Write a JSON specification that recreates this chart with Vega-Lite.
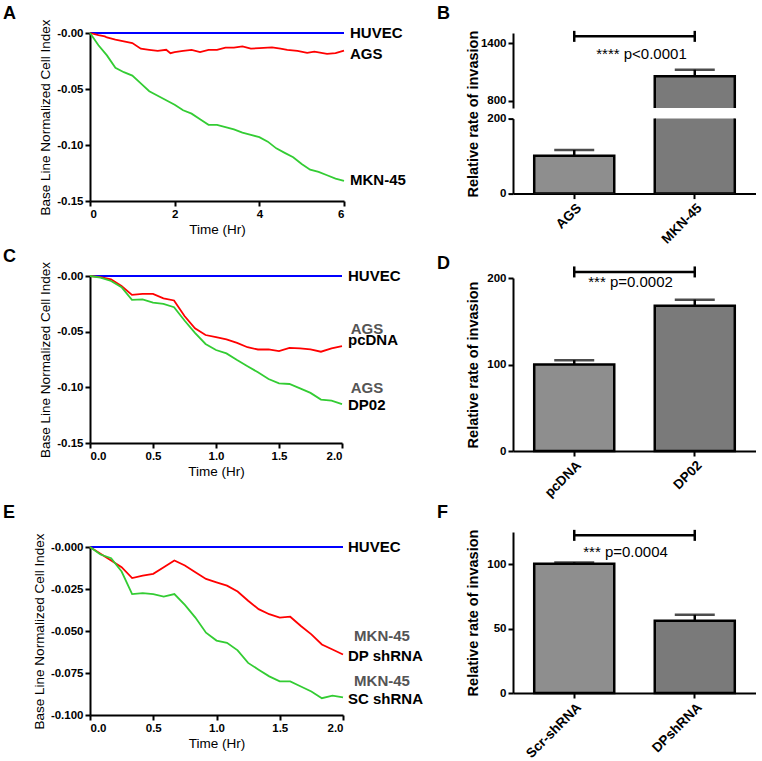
{
  "$schema": "https://vega.github.io/schema/vega-lite/v6.json",
  "background": "white",
  "padding": {"left": 3, "top": 4, "right": 0, "bottom": 6},
  "config": {
    "font": "Liberation Sans",
    "view": {"stroke": null},
    "axis": {"domainColor": "black", "domainWidth": 2, "tickColor": "black", "tickWidth": 2, "tickSize": 5, "labelColor": "black", "labelFontWeight": "bold", "labelFontSize": 11.5, "labelPadding": 2, "labelOverlap": false, "titleColor": "black", "titleFontWeight": "normal", "titleFontSize": 13.5, "grid": false},
    "title": {"fontSize": 18, "fontWeight": "bold", "anchor": "start", "frame": "group", "color": "black"}
  },
  "datasets": {
    "lineA": [
      {"t": 0, "v": 0, "s": "HUVEC"}, {"t": 1, "v": 0, "s": "HUVEC"}, {"t": 2, "v": 0, "s": "HUVEC"}, {"t": 3, "v": 0, "s": "HUVEC"}, {"t": 4, "v": 0, "s": "HUVEC"}, {"t": 5, "v": 0, "s": "HUVEC"}, {"t": 6, "v": 0, "s": "HUVEC"},
      {"t": 0, "v": 0, "s": "AGS"}, {"t": 0.2, "v": -0.002, "s": "AGS"}, {"t": 0.35, "v": -0.003, "s": "AGS"}, {"t": 0.4, "v": -0.004, "s": "AGS"}, {"t": 0.6, "v": -0.006, "s": "AGS"}, {"t": 0.8, "v": -0.0075, "s": "AGS"}, {"t": 1.0, "v": -0.009, "s": "AGS"}, {"t": 1.2, "v": -0.014, "s": "AGS"}, {"t": 1.4, "v": -0.015, "s": "AGS"}, {"t": 1.6, "v": -0.016, "s": "AGS"}, {"t": 1.8, "v": -0.015, "s": "AGS"}, {"t": 1.9, "v": -0.018, "s": "AGS"}, {"t": 2.0, "v": -0.017, "s": "AGS"}, {"t": 2.2, "v": -0.016, "s": "AGS"}, {"t": 2.4, "v": -0.015, "s": "AGS"}, {"t": 2.6, "v": -0.017, "s": "AGS"}, {"t": 2.8, "v": -0.015, "s": "AGS"}, {"t": 3.0, "v": -0.015, "s": "AGS"}, {"t": 3.2, "v": -0.013, "s": "AGS"}, {"t": 3.4, "v": -0.013, "s": "AGS"}, {"t": 3.6, "v": -0.012, "s": "AGS"}, {"t": 3.8, "v": -0.014, "s": "AGS"}, {"t": 4.0, "v": -0.0135, "s": "AGS"}, {"t": 4.3, "v": -0.0128, "s": "AGS"}, {"t": 4.5, "v": -0.014, "s": "AGS"}, {"t": 4.66, "v": -0.015, "s": "AGS"}, {"t": 4.9, "v": -0.016, "s": "AGS"}, {"t": 5.13, "v": -0.0178, "s": "AGS"}, {"t": 5.3, "v": -0.0167, "s": "AGS"}, {"t": 5.6, "v": -0.0187, "s": "AGS"}, {"t": 5.8, "v": -0.018, "s": "AGS"}, {"t": 6.0, "v": -0.0158, "s": "AGS"},
      {"t": 0, "v": 0, "s": "MKN-45"}, {"t": 0.2, "v": -0.011, "s": "MKN-45"}, {"t": 0.4, "v": -0.02, "s": "MKN-45"}, {"t": 0.6, "v": -0.031, "s": "MKN-45"}, {"t": 0.8, "v": -0.035, "s": "MKN-45"}, {"t": 1.0, "v": -0.038, "s": "MKN-45"}, {"t": 1.2, "v": -0.045, "s": "MKN-45"}, {"t": 1.4, "v": -0.052, "s": "MKN-45"}, {"t": 1.6, "v": -0.056, "s": "MKN-45"}, {"t": 1.8, "v": -0.06, "s": "MKN-45"}, {"t": 2.0, "v": -0.064, "s": "MKN-45"}, {"t": 2.2, "v": -0.069, "s": "MKN-45"}, {"t": 2.4, "v": -0.072, "s": "MKN-45"}, {"t": 2.6, "v": -0.077, "s": "MKN-45"}, {"t": 2.8, "v": -0.082, "s": "MKN-45"}, {"t": 3.0, "v": -0.082, "s": "MKN-45"}, {"t": 3.2, "v": -0.084, "s": "MKN-45"}, {"t": 3.4, "v": -0.086, "s": "MKN-45"}, {"t": 3.6, "v": -0.089, "s": "MKN-45"}, {"t": 3.8, "v": -0.091, "s": "MKN-45"}, {"t": 4.0, "v": -0.093, "s": "MKN-45"}, {"t": 4.2, "v": -0.097, "s": "MKN-45"}, {"t": 4.4, "v": -0.103, "s": "MKN-45"}, {"t": 4.6, "v": -0.107, "s": "MKN-45"}, {"t": 4.8, "v": -0.111, "s": "MKN-45"}, {"t": 5.0, "v": -0.117, "s": "MKN-45"}, {"t": 5.2, "v": -0.122, "s": "MKN-45"}, {"t": 5.4, "v": -0.124, "s": "MKN-45"}, {"t": 5.6, "v": -0.127, "s": "MKN-45"}, {"t": 5.8, "v": -0.13, "s": "MKN-45"}, {"t": 6.0, "v": -0.132, "s": "MKN-45"}
    ],
    "labA": [
      {"t": 6, "v": 0, "label": "HUVEC"}, {"t": 6, "v": -0.0187, "label": "AGS"}, {"t": 6, "v": -0.1316, "label": "MKN-45"}
    ],
    "lineC": [
      {"t": 0, "v": 0, "s": "HUVEC"}, {"t": 0.5, "v": 0, "s": "HUVEC"}, {"t": 1, "v": 0, "s": "HUVEC"}, {"t": 1.5, "v": 0, "s": "HUVEC"}, {"t": 2, "v": 0, "s": "HUVEC"},
      {"t": 0, "v": 0, "s": "AGS pcDNA"}, {"t": 0.083, "v": -0.001, "s": "AGS pcDNA"}, {"t": 0.167, "v": -0.003, "s": "AGS pcDNA"}, {"t": 0.25, "v": -0.009, "s": "AGS pcDNA"}, {"t": 0.333, "v": -0.017, "s": "AGS pcDNA"}, {"t": 0.417, "v": -0.016, "s": "AGS pcDNA"}, {"t": 0.5, "v": -0.016, "s": "AGS pcDNA"}, {"t": 0.583, "v": -0.02, "s": "AGS pcDNA"}, {"t": 0.667, "v": -0.022, "s": "AGS pcDNA"}, {"t": 0.75, "v": -0.036, "s": "AGS pcDNA"}, {"t": 0.833, "v": -0.047, "s": "AGS pcDNA"}, {"t": 0.917, "v": -0.053, "s": "AGS pcDNA"}, {"t": 1.0, "v": -0.055, "s": "AGS pcDNA"}, {"t": 1.083, "v": -0.057, "s": "AGS pcDNA"}, {"t": 1.167, "v": -0.06, "s": "AGS pcDNA"}, {"t": 1.25, "v": -0.064, "s": "AGS pcDNA"}, {"t": 1.333, "v": -0.066, "s": "AGS pcDNA"}, {"t": 1.417, "v": -0.066, "s": "AGS pcDNA"}, {"t": 1.5, "v": -0.0675, "s": "AGS pcDNA"}, {"t": 1.583, "v": -0.0645, "s": "AGS pcDNA"}, {"t": 1.667, "v": -0.065, "s": "AGS pcDNA"}, {"t": 1.75, "v": -0.066, "s": "AGS pcDNA"}, {"t": 1.833, "v": -0.068, "s": "AGS pcDNA"}, {"t": 1.917, "v": -0.065, "s": "AGS pcDNA"}, {"t": 2.0, "v": -0.063, "s": "AGS pcDNA"},
      {"t": 0, "v": 0, "s": "AGS DP02"}, {"t": 0.083, "v": -0.0015, "s": "AGS DP02"}, {"t": 0.167, "v": -0.0045, "s": "AGS DP02"}, {"t": 0.25, "v": -0.01, "s": "AGS DP02"}, {"t": 0.333, "v": -0.0215, "s": "AGS DP02"}, {"t": 0.417, "v": -0.021, "s": "AGS DP02"}, {"t": 0.5, "v": -0.024, "s": "AGS DP02"}, {"t": 0.583, "v": -0.025, "s": "AGS DP02"}, {"t": 0.667, "v": -0.028, "s": "AGS DP02"}, {"t": 0.75, "v": -0.04, "s": "AGS DP02"}, {"t": 0.833, "v": -0.051, "s": "AGS DP02"}, {"t": 0.917, "v": -0.061, "s": "AGS DP02"}, {"t": 1.0, "v": -0.0665, "s": "AGS DP02"}, {"t": 1.083, "v": -0.0695, "s": "AGS DP02"}, {"t": 1.167, "v": -0.0755, "s": "AGS DP02"}, {"t": 1.25, "v": -0.081, "s": "AGS DP02"}, {"t": 1.333, "v": -0.0865, "s": "AGS DP02"}, {"t": 1.417, "v": -0.0925, "s": "AGS DP02"}, {"t": 1.5, "v": -0.0965, "s": "AGS DP02"}, {"t": 1.583, "v": -0.097, "s": "AGS DP02"}, {"t": 1.667, "v": -0.101, "s": "AGS DP02"}, {"t": 1.75, "v": -0.105, "s": "AGS DP02"}, {"t": 1.833, "v": -0.111, "s": "AGS DP02"}, {"t": 1.917, "v": -0.112, "s": "AGS DP02"}, {"t": 2.0, "v": -0.115, "s": "AGS DP02"}
    ],
    "labC": [
      {"t": 2, "v": 0, "label": "HUVEC"}, {"t": 2, "v": -0.0578, "label": "pcDNA"}, {"t": 2, "v": -0.1155, "label": "DP02"}
    ],
    "labCg": [
      {"t": 2, "v": -0.0476, "label": "AGS"}, {"t": 2, "v": -0.101, "label": "AGS"}
    ],
    "lineE": [
      {"t": 0, "v": 0, "s": "HUVEC"}, {"t": 0.5, "v": 0, "s": "HUVEC"}, {"t": 1, "v": 0, "s": "HUVEC"}, {"t": 1.5, "v": 0, "s": "HUVEC"}, {"t": 2, "v": 0, "s": "HUVEC"},
      {"t": 0, "v": 0, "s": "DP shRNA"}, {"t": 0.083, "v": -0.004, "s": "DP shRNA"}, {"t": 0.167, "v": -0.008, "s": "DP shRNA"}, {"t": 0.25, "v": -0.012, "s": "DP shRNA"}, {"t": 0.333, "v": -0.0185, "s": "DP shRNA"}, {"t": 0.417, "v": -0.017, "s": "DP shRNA"}, {"t": 0.5, "v": -0.016, "s": "DP shRNA"}, {"t": 0.583, "v": -0.012, "s": "DP shRNA"}, {"t": 0.667, "v": -0.008, "s": "DP shRNA"}, {"t": 0.75, "v": -0.011, "s": "DP shRNA"}, {"t": 0.833, "v": -0.015, "s": "DP shRNA"}, {"t": 0.917, "v": -0.019, "s": "DP shRNA"}, {"t": 1.0, "v": -0.021, "s": "DP shRNA"}, {"t": 1.083, "v": -0.023, "s": "DP shRNA"}, {"t": 1.167, "v": -0.0265, "s": "DP shRNA"}, {"t": 1.25, "v": -0.032, "s": "DP shRNA"}, {"t": 1.333, "v": -0.037, "s": "DP shRNA"}, {"t": 1.417, "v": -0.04, "s": "DP shRNA"}, {"t": 1.5, "v": -0.042, "s": "DP shRNA"}, {"t": 1.583, "v": -0.0415, "s": "DP shRNA"}, {"t": 1.667, "v": -0.047, "s": "DP shRNA"}, {"t": 1.75, "v": -0.052, "s": "DP shRNA"}, {"t": 1.833, "v": -0.058, "s": "DP shRNA"}, {"t": 1.917, "v": -0.061, "s": "DP shRNA"}, {"t": 2.0, "v": -0.064, "s": "DP shRNA"},
      {"t": 0, "v": 0, "s": "SC shRNA"}, {"t": 0.083, "v": -0.0045, "s": "SC shRNA"}, {"t": 0.167, "v": -0.0067, "s": "SC shRNA"}, {"t": 0.25, "v": -0.0146, "s": "SC shRNA"}, {"t": 0.333, "v": -0.028, "s": "SC shRNA"}, {"t": 0.417, "v": -0.0275, "s": "SC shRNA"}, {"t": 0.5, "v": -0.028, "s": "SC shRNA"}, {"t": 0.583, "v": -0.0295, "s": "SC shRNA"}, {"t": 0.667, "v": -0.028, "s": "SC shRNA"}, {"t": 0.75, "v": -0.0345, "s": "SC shRNA"}, {"t": 0.833, "v": -0.042, "s": "SC shRNA"}, {"t": 0.917, "v": -0.051, "s": "SC shRNA"}, {"t": 1.0, "v": -0.0557, "s": "SC shRNA"}, {"t": 1.083, "v": -0.057, "s": "SC shRNA"}, {"t": 1.167, "v": -0.0615, "s": "SC shRNA"}, {"t": 1.25, "v": -0.069, "s": "SC shRNA"}, {"t": 1.333, "v": -0.073, "s": "SC shRNA"}, {"t": 1.417, "v": -0.077, "s": "SC shRNA"}, {"t": 1.5, "v": -0.08, "s": "SC shRNA"}, {"t": 1.583, "v": -0.08, "s": "SC shRNA"}, {"t": 1.667, "v": -0.083, "s": "SC shRNA"}, {"t": 1.75, "v": -0.086, "s": "SC shRNA"}, {"t": 1.833, "v": -0.09, "s": "SC shRNA"}, {"t": 1.917, "v": -0.0885, "s": "SC shRNA"}, {"t": 2.0, "v": -0.0895, "s": "SC shRNA"}
    ],
    "labE": [
      {"t": 2, "v": 0, "label": "HUVEC"}, {"t": 2, "v": -0.0650, "label": "DP shRNA"}, {"t": 2, "v": -0.0902, "label": "SC shRNA"}
    ],
    "labEg": [
      {"t": 2, "v": -0.0530, "label": "MKN-45"}, {"t": 2, "v": -0.0798, "label": "MKN-45"}
    ],
    "barB": [
      {"cat": "AGS", "mean": 101, "upper": 116},
      {"cat": "MKN-45", "mean": 1053, "upper": 1122}
    ],
    "brB": [{"cat": "AGS", "y": 1470}, {"cat": "MKN-45", "y": 1470}],
    "txB": [{"cat": "AGS", "y": 1290}],
    "barD": [
      {"cat": "pcDNA", "mean": 100, "upper": 105},
      {"cat": "DP02", "mean": 168, "upper": 175}
    ],
    "brD": [{"cat": "pcDNA", "y": 207}, {"cat": "DP02", "y": 207}],
    "txD": [{"cat": "pcDNA", "y": 195}],
    "barF": [
      {"cat": "Scr-shRNA", "mean": 100.4, "upper": 101.4},
      {"cat": "DPshRNA", "mean": 56, "upper": 60.7}
    ],
    "brF": [{"cat": "Scr-shRNA", "y": 122.4}, {"cat": "DPshRNA", "y": 122.4}],
    "txF": [{"cat": "Scr-shRNA", "y": 109.4}]
  },
  "spacing": 13,
  "resolve": {"scale": {"color": "independent", "fill": "independent"}},
  "hconcat": [
    {
      "spacing": 26,
      "resolve": {"scale": {"color": "independent", "fill": "independent"}},
      "vconcat": [
        {
          "spacing": 11,
          "resolve": {"scale": {"color": "independent", "fill": "independent"}},
          "vconcat": [
            {
              "width": 254, "height": 168,
              "title": {"text": "A", "dx": -87, "offset": -4},
              "layer": [
                {"data": {"name": "lineA"}, "mark": {"type": "line", "strokeWidth": 1.8},
                 "encoding": {
                   "x": {"field": "t", "type": "quantitative", "scale": {"domain": [0, 6], "nice": false}, "axis": {"title": "Time (Hr)", "values": [0, 2, 4, 6], "format": "d", "titlePadding": 3}},
                   "y": {"field": "v", "type": "quantitative", "scale": {"domain": [-0.15, 0], "nice": false}, "axis": {"title": "Base Line Normalized Cell Index", "values": [0, -0.05, -0.1, -0.15], "labelExpr": "datum.value == 0 ? '-0.00' : replace(format(datum.value, '.2f'), '\u2212', '-')", "titlePadding": 4}},
                   "color": {"field": "s", "type": "nominal", "scale": {"domain": ["HUVEC", "AGS", "MKN-45"], "range": ["#0000ff", "#ff0000", "#33cc33"]}, "legend": null}
                 }},
                {"data": {"name": "labA"}, "mark": {"type": "text", "align": "left", "baseline": "middle", "dx": 6, "fontSize": 15, "fontWeight": "bold", "color": "black"},
                 "encoding": {"x": {"field": "t", "type": "quantitative"}, "y": {"field": "v", "type": "quantitative"}, "text": {"field": "label"}}}
              ]
            },
            {
              "width": 252, "height": 167,
              "title": {"text": "C", "dx": -87, "offset": -4},
              "layer": [
                {"data": {"name": "lineC"}, "mark": {"type": "line", "strokeWidth": 1.8},
                 "encoding": {
                   "x": {"field": "t", "type": "quantitative", "scale": {"domain": [0, 2], "nice": false}, "axis": {"title": "Time (Hr)", "values": [0, 0.5, 1, 1.5, 2], "format": ".1f", "titlePadding": 3}},
                   "y": {"field": "v", "type": "quantitative", "scale": {"domain": [-0.15, 0], "nice": false}, "axis": {"title": "Base Line Normalized Cell Index", "values": [0, -0.05, -0.1, -0.15], "labelExpr": "datum.value == 0 ? '-0.00' : replace(format(datum.value, '.2f'), '\u2212', '-')", "titlePadding": 4}},
                   "color": {"field": "s", "type": "nominal", "scale": {"domain": ["HUVEC", "AGS pcDNA", "AGS DP02"], "range": ["#0000ff", "#ff0000", "#33cc33"]}, "legend": null}
                 }},
                {"data": {"name": "labC"}, "mark": {"type": "text", "align": "left", "baseline": "middle", "dx": 6, "fontSize": 15, "fontWeight": "bold", "color": "black"},
                 "encoding": {"x": {"field": "t", "type": "quantitative"}, "y": {"field": "v", "type": "quantitative"}, "text": {"field": "label"}}},
                {"data": {"name": "labCg"}, "mark": {"type": "text", "align": "center", "baseline": "middle", "dx": 25, "fontSize": 15, "fontWeight": "bold", "color": "#555555"},
                 "encoding": {"x": {"field": "t", "type": "quantitative"}, "y": {"field": "v", "type": "quantitative"}, "text": {"field": "label"}}}
              ]
            }
          ]
        },
        {
          "width": 253, "height": 168,
          "title": {"text": "E", "dx": -87, "offset": 11},
          "layer": [
            {"data": {"name": "lineE"}, "mark": {"type": "line", "strokeWidth": 1.8},
             "encoding": {
               "x": {"field": "t", "type": "quantitative", "scale": {"domain": [0, 2], "nice": false}, "axis": {"title": "Time (Hr)", "values": [0, 0.5, 1, 1.5, 2], "format": ".1f", "titlePadding": 3}},
               "y": {"field": "v", "type": "quantitative", "scale": {"domain": [-0.1, 0], "nice": false}, "axis": {"title": "Base Line Normalized Cell Index", "values": [0, -0.025, -0.05, -0.075, -0.1], "labelExpr": "datum.value == 0 ? '-0.000' : replace(format(datum.value, '.3f'), '\u2212', '-')", "titlePadding": 4}},
               "color": {"field": "s", "type": "nominal", "scale": {"domain": ["HUVEC", "DP shRNA", "SC shRNA"], "range": ["#0000ff", "#ff0000", "#33cc33"]}, "legend": null}
             }},
            {"data": {"name": "labE"}, "mark": {"type": "text", "align": "left", "baseline": "middle", "dx": 5, "fontSize": 15, "fontWeight": "bold", "color": "black"},
             "encoding": {"x": {"field": "t", "type": "quantitative"}, "y": {"field": "v", "type": "quantitative"}, "text": {"field": "label"}}},
            {"data": {"name": "labEg"}, "mark": {"type": "text", "align": "center", "baseline": "middle", "dx": 39, "fontSize": 15, "fontWeight": "bold", "color": "#555555"},
             "encoding": {"x": {"field": "t", "type": "quantitative"}, "y": {"field": "v", "type": "quantitative"}, "text": {"field": "label"}}}
          ]
        }
      ]
    },
    {
      "spacing": 3,
      "resolve": {"scale": {"color": "independent", "fill": "independent"}},
      "vconcat": [
        {
          "spacing": 9,
          "resolve": {"scale": {"color": "independent", "fill": "independent"}},
          "vconcat": [
            {
              "bounds": "flush",
              "spacing": 10.6,
              "resolve": {"scale": {"color": "independent", "fill": "independent"}},
              "vconcat": [
                {
                  "width": 243, "height": 75,
                  "title": {"text": "B", "dx": -76, "offset": 3},
                  "layer": [
                    {"data": {"name": "barB"}, "mark": {"type": "bar", "stroke": "black", "strokeWidth": 2.5, "clip": true},
                     "encoding": {
                       "x": {"field": "cat", "type": "nominal", "scale": {"domain": ["AGS", "MKN-45"], "paddingInner": 0.336, "paddingOuter": 0.176}, "axis": null},
                       "y": {"field": "mean", "type": "quantitative", "scale": {"domain": [723, 1505], "nice": false, "zero": false}, "axis": {"title": null, "values": [800, 1000, 1200, 1400], "format": "d", "minExtent": 30, "maxExtent": 30}},
                       "fill": {"field": "cat", "type": "nominal", "scale": {"domain": ["AGS", "MKN-45"], "range": ["#8e8e8e", "#7a7a7a"]}, "legend": null}
                     }},
                    {"data": {"name": "barB"}, "mark": {"type": "rule", "strokeWidth": 2.5, "color": "black", "clip": true},
                     "encoding": {"x": {"field": "cat", "type": "nominal"}, "y": {"field": "mean", "type": "quantitative"}, "y2": {"field": "upper"}}},
                    {"data": {"name": "barB"}, "mark": {"type": "tick", "thickness": 2.5, "size": 40, "color": "black", "clip": true},
                     "encoding": {"x": {"field": "cat", "type": "nominal"}, "y": {"field": "upper", "type": "quantitative"}}},
                    {"data": {"name": "brB"}, "mark": {"type": "line", "strokeWidth": 2.5, "color": "black"},
                     "encoding": {"x": {"field": "cat", "type": "nominal"}, "y": {"field": "y", "type": "quantitative"}}},
                    {"data": {"name": "brB"}, "mark": {"type": "point", "shape": "M0,-1L0,1", "size": 121, "strokeWidth": 2.5, "color": "black", "filled": false, "opacity": 1},
                     "encoding": {"x": {"field": "cat", "type": "nominal"}, "y": {"field": "y", "type": "quantitative"}}},
                    {"data": {"name": "txB"}, "mark": {"type": "text", "text": "**** p<0.0001", "align": "left", "baseline": "middle", "dx": 22, "fontSize": 15, "color": "black"},
                     "encoding": {"x": {"field": "cat", "type": "nominal"}, "y": {"field": "y", "type": "quantitative"}}}
                  ]
                },
                {
                  "width": 243, "height": 75,
                  "layer": [
                    {"data": {"name": "barB"}, "mark": {"type": "bar", "stroke": "black", "strokeWidth": 2.5, "clip": true},
                     "encoding": {
                       "x": {"field": "cat", "type": "nominal", "scale": {"domain": ["AGS", "MKN-45"], "paddingInner": 0.336, "paddingOuter": 0.176}, "axis": {"title": null, "labelAngle": -45, "labelFontSize": 13.5}},
                       "y": {"field": "mean", "type": "quantitative", "scale": {"domain": [0, 200], "nice": false}, "axis": {"title": "Relative rate of invasion", "titleY": -5, "titleFontWeight": "bold", "titleFontSize": 14.5, "titlePadding": 3, "values": [0, 50, 100, 150, 200], "minExtent": 30, "maxExtent": 30}},
                       "fill": {"field": "cat", "type": "nominal", "scale": {"domain": ["AGS", "MKN-45"], "range": ["#8e8e8e", "#7a7a7a"]}, "legend": null}
                     }},
                    {"data": {"name": "barB"}, "mark": {"type": "rule", "strokeWidth": 2.5, "color": "black", "clip": true},
                     "encoding": {"x": {"field": "cat", "type": "nominal"}, "y": {"field": "mean", "type": "quantitative"}, "y2": {"field": "upper"}}},
                    {"data": {"name": "barB"}, "mark": {"type": "tick", "thickness": 2.5, "size": 40, "color": "black", "clip": true},
                     "encoding": {"x": {"field": "cat", "type": "nominal"}, "y": {"field": "upper", "type": "quantitative"}}}
                  ]
                }
              ]
            },
            {
              "width": 243, "height": 173,
              "title": {"text": "D", "dx": -76, "offset": -12},
              "layer": [
                {"data": {"name": "barD"}, "mark": {"type": "bar", "stroke": "black", "strokeWidth": 2.5},
                 "encoding": {
                   "x": {"field": "cat", "type": "nominal", "scale": {"domain": ["pcDNA", "DP02"], "paddingInner": 0.336, "paddingOuter": 0.176}, "axis": {"title": null, "labelAngle": -45, "labelFontSize": 13.5}},
                   "y": {"field": "mean", "type": "quantitative", "scale": {"domain": [0, 200], "nice": false}, "axis": {"title": "Relative rate of invasion", "titleFontWeight": "bold", "titleFontSize": 14.5, "titlePadding": 3, "values": [0, 100, 200], "minExtent": 30, "maxExtent": 30}},
                   "fill": {"field": "cat", "type": "nominal", "scale": {"domain": ["pcDNA", "DP02"], "range": ["#8e8e8e", "#7a7a7a"]}, "legend": null}
                 }},
                {"data": {"name": "barD"}, "mark": {"type": "rule", "strokeWidth": 2.5, "color": "black"},
                 "encoding": {"x": {"field": "cat", "type": "nominal"}, "y": {"field": "mean", "type": "quantitative"}, "y2": {"field": "upper"}}},
                {"data": {"name": "barD"}, "mark": {"type": "tick", "thickness": 2.5, "size": 40, "color": "black"},
                 "encoding": {"x": {"field": "cat", "type": "nominal"}, "y": {"field": "upper", "type": "quantitative"}}},
                {"data": {"name": "brD"}, "mark": {"type": "line", "strokeWidth": 2.5, "color": "black"},
                 "encoding": {"x": {"field": "cat", "type": "nominal"}, "y": {"field": "y", "type": "quantitative"}}},
                {"data": {"name": "brD"}, "mark": {"type": "point", "shape": "M0,-1L0,1", "size": 121, "strokeWidth": 2.5, "color": "black", "filled": false, "opacity": 1},
                 "encoding": {"x": {"field": "cat", "type": "nominal"}, "y": {"field": "y", "type": "quantitative"}}},
                {"data": {"name": "txD"}, "mark": {"type": "text", "text": "*** p=0.0002", "align": "left", "baseline": "middle", "dx": 14, "fontSize": 15, "color": "black"},
                 "encoding": {"x": {"field": "cat", "type": "nominal"}, "y": {"field": "y", "type": "quantitative"}}}
              ]
            }
          ]
        },
        {
          "width": 243, "height": 161,
          "title": {"text": "F", "dx": -76, "offset": 3},
          "layer": [
            {"data": {"name": "barF"}, "mark": {"type": "bar", "stroke": "black", "strokeWidth": 2.5},
             "encoding": {
               "x": {"field": "cat", "type": "nominal", "scale": {"domain": ["Scr-shRNA", "DPshRNA"], "paddingInner": 0.336, "paddingOuter": 0.176}, "axis": {"title": null, "labelAngle": -45, "labelFontSize": 13.5}},
               "y": {"field": "mean", "type": "quantitative", "scale": {"domain": [0, 125], "nice": false}, "axis": {"title": "Relative rate of invasion", "titleFontWeight": "bold", "titleFontSize": 14.5, "titlePadding": 3, "values": [0, 25, 50, 75, 100, 125], "minExtent": 30, "maxExtent": 30}},
               "fill": {"field": "cat", "type": "nominal", "scale": {"domain": ["Scr-shRNA", "DPshRNA"], "range": ["#8e8e8e", "#7a7a7a"]}, "legend": null}
             }},
            {"data": {"name": "barF"}, "mark": {"type": "rule", "strokeWidth": 2.5, "color": "black"},
             "encoding": {"x": {"field": "cat", "type": "nominal"}, "y": {"field": "mean", "type": "quantitative"}, "y2": {"field": "upper"}}},
            {"data": {"name": "barF"}, "mark": {"type": "tick", "thickness": 2.5, "size": 40, "color": "black"},
             "encoding": {"x": {"field": "cat", "type": "nominal"}, "y": {"field": "upper", "type": "quantitative"}}},
            {"data": {"name": "brF"}, "mark": {"type": "line", "strokeWidth": 2.5, "color": "black"},
             "encoding": {"x": {"field": "cat", "type": "nominal"}, "y": {"field": "y", "type": "quantitative"}}},
            {"data": {"name": "brF"}, "mark": {"type": "point", "shape": "M0,-1L0,1", "size": 121, "strokeWidth": 2.5, "color": "black", "filled": false, "opacity": 1},
             "encoding": {"x": {"field": "cat", "type": "nominal"}, "y": {"field": "y", "type": "quantitative"}}},
            {"data": {"name": "txF"}, "mark": {"type": "text", "text": "*** p=0.0004", "align": "left", "baseline": "middle", "dx": 9, "fontSize": 15, "color": "black"},
             "encoding": {"x": {"field": "cat", "type": "nominal"}, "y": {"field": "y", "type": "quantitative"}}}
          ]
        }
      ]
    }
  ]
}
